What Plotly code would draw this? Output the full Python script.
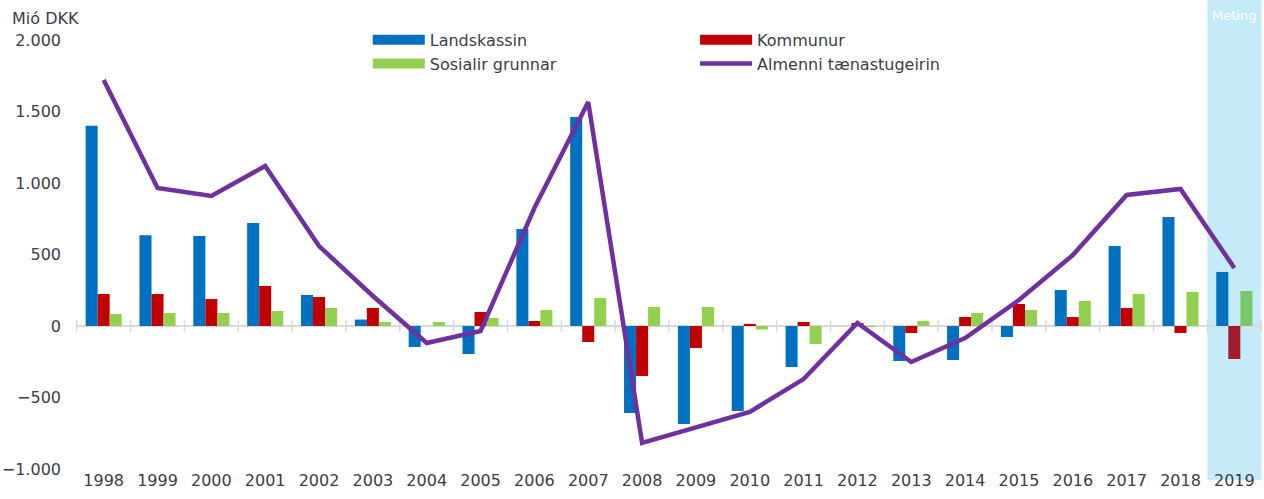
import plotly.graph_objects as go

years = [str(y) for y in range(1998, 2020)]

landskassin = [1400, 635, 630, 720, 217, 45, -147, -196, 678, 1461, -608, -685,
               -594, -287, 0, -245, -238, -77, 252, 559, 762, 378]

kommunur = [224, 224, 189, 280, 203, 126, 0, 98, 35, -112, -350, -154,
            15, 28, 21, -49, 63, 154, 63, 126, -49, -231]

sosialir = [84, 91, 91, 105, 126, 28, 28, 56, 112, 196, 133, 133,
            -25, -126, -5, 35, 91, 112, 175, 224, 238, 245]

almenni = [1720, 965, 909, 1119, 559, 210, -119, -35, 825, 1566, -818, -713,
           -601, -371, 21, -252, -84, 182, 496, 916, 958, 406]

y_ticks = [-1000, -500, 0, 500, 1000, 1500, 2000]

blue = '#0070C0'
red = '#C00000'
green = '#92D050'
purple = '#7030A0'
text_color = '#3C3C4A'

font_family = 'DejaVu Sans, Verdana, sans-serif'

n = len(years)

fig = go.Figure()

fig.add_trace(go.Bar(
    x=years,
    y=landskassin,
    name='Landskassin',
    showlegend=False,
    marker=dict(color=blue, line=dict(width=0))
))

fig.add_trace(go.Bar(
    x=years,
    y=kommunur,
    name='Kommunur',
    showlegend=False,
    marker=dict(
        color=[red] * (n - 1) + ['#A11D2D'],
        line=dict(width=0)
    )
))

fig.add_trace(go.Bar(
    x=years,
    y=sosialir,
    name='Sosialir grunnar',
    showlegend=False,
    marker=dict(
        color=[green] * (n - 1) + ['#78C76C'],
        line=dict(width=0)
    )
))

fig.add_trace(go.Scatter(
    x=years,
    y=almenni,
    name='Almenni tænastugeirin',
    mode='lines',
    legend='legend2',
    legendrank=2,
    line=dict(color=purple, width=4.5)
))

# legend-only entries so the bar keys are drawn as wide blocks
for name, color, leg in [('Landskassin', blue, 'legend'),
                         ('Sosialir grunnar', green, 'legend'),
                         ('Kommunur', red, 'legend2')]:
    fig.add_trace(go.Scatter(
        x=[None], y=[None],
        name=name,
        mode='lines',
        legend=leg,
        legendrank=1 if name != 'Sosialir grunnar' else 2,
        line=dict(color=color, width=10)
    ))

# forecast band for the last year
fig.add_shape(
    type='rect', xref='x', yref='paper',
    x0=n - 1.5, x1=n - 0.5, y0=-0.026, y1=1.1,
    fillcolor='#C6EBF8', line=dict(width=0), layer='below'
)

# small ticks across the zero line at category boundaries
for i in range(n + 1):
    fig.add_shape(
        type='line', xref='x', yref='y',
        x0=i - 0.5, x1=i - 0.5, y0=-40, y1=40,
        line=dict(color='#D9D9D9', width=1.5), layer='below'
    )

fig.add_annotation(
    text='Meting', xref='x', yref='paper',
    x=n - 1, y=1.056, yanchor='middle', showarrow=False,
    font=dict(color='white', size=13, family=font_family)
)

fig.add_annotation(
    text='Mió DKK', xref='paper', yref='paper',
    x=-0.056, y=1.051, xanchor='left', yanchor='middle', showarrow=False,
    font=dict(color=text_color, size=16, family=font_family)
)

legend_style = dict(
    orientation='v',
    xanchor='left', yanchor='top',
    itemwidth=52,
    tracegroupgap=0,
    bgcolor='rgba(0,0,0,0)',
    font=dict(size=16, color=text_color, family=font_family)
)

fig.update_layout(
    width=1264,
    height=499,
    margin=dict(l=76, r=2, t=40, b=30),
    plot_bgcolor='white',
    paper_bgcolor='white',
    separators=',.',
    barmode='group',
    bargap=0.33,
    bargroupgap=0,
    font=dict(family=font_family, size=16, color=text_color),
    showlegend=True,
    legend=dict(x=0.246, y=1.04, **legend_style),
    legend2=dict(x=0.522, y=1.04, **legend_style),
    xaxis=dict(
        type='category',
        showgrid=False,
        showline=False,
        ticks='',
        tickfont=dict(size=16, color=text_color)
    ),
    yaxis=dict(
        range=[-1000, 2000],
        tickvals=y_ticks,
        tickformat=',d',
        showgrid=False,
        showline=False,
        zeroline=True,
        zerolinecolor='#D9D9D9',
        zerolinewidth=2,
        ticklabelstandoff=14,
        tickfont=dict(size=16, color=text_color)
    )
)

fig.write_html(
    'out.html',
    config=dict(displayModeBar=False),
    post_script="document.body.style.margin='0px';"
)
